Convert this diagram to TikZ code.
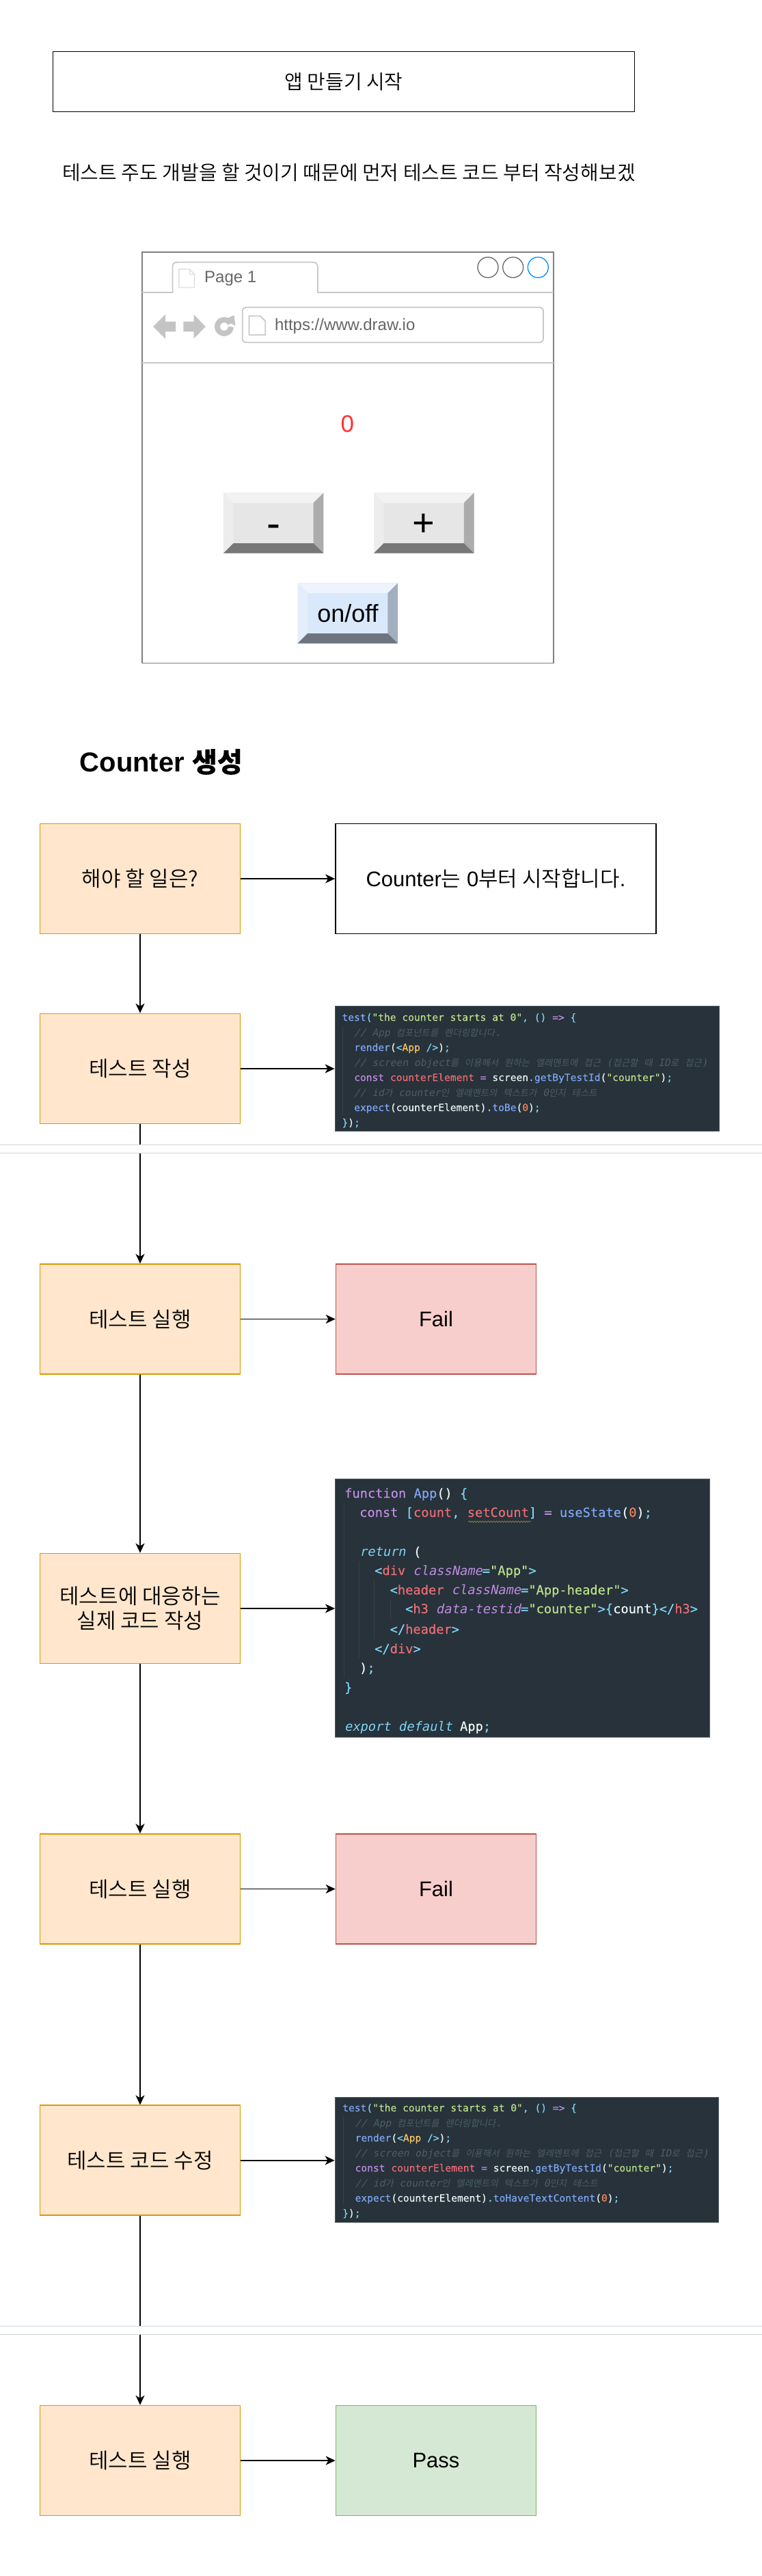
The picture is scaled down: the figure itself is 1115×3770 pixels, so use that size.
\documentclass[tikz,border=0pt]{standalone}
\usepackage{fontspec}
\setmainfont{Liberation Sans}
\newfontfamily\krf{Noto Sans CJK KR DemiLight}
\newfontfamily\krboldf[FakeBold=0.3]{Noto Sans CJK KR}
\newfontfamily\krobl[FakeSlant=0.2]{Noto Sans CJK KR}
\newfontfamily\codef[FakeBold=0.2]{DejaVu Sans Mono}
\newfontfamily\codeobl[FakeSlant=0.2]{DejaVu Sans Mono}
\usetikzlibrary{arrows.meta,decorations.pathmorphing}
\newcommand{\kr}[1]{{\krf #1}}
\definecolor{codebg}{HTML}{27323A}
\definecolor{codeedge}{HTML}{505C64}
\definecolor{codeguide}{HTML}{34424B}
\definecolor{squig}{HTML}{968046}
\definecolor{cblue}{HTML}{7FA6F5}
\definecolor{cgreen}{HTML}{BEE08A}
\definecolor{cmag}{HTML}{C08CE2}
\definecolor{ccyan}{HTML}{7FD3F5}
\definecolor{cyel}{HTML}{F8C565}
\definecolor{cred}{HTML}{EC6C74}
\definecolor{corg}{HTML}{F2845E}
\definecolor{cwhite}{HTML}{EDF7F7}
\definecolor{ccom}{HTML}{4C5D67}
\definecolor{brline}{HTML}{C8C8C8}
\definecolor{brtext}{HTML}{666666}
\definecolor{brouter}{HTML}{808080}
\definecolor{iconline}{HTML}{D8D8D8}
\definecolor{navgray}{HTML}{C4C4C4}
\definecolor{dotblue}{HTML}{008CFF}
\definecolor{tearA}{HTML}{D4D4DC}
\definecolor{tearB}{HTML}{CDD5DC}
\definecolor{orgline}{HTML}{D79B00}
\definecolor{orgfill}{HTML}{FFE6CC}
\definecolor{redline}{HTML}{B85450}
\definecolor{redfill}{HTML}{F8CECC}
\definecolor{grnline}{HTML}{82B366}
\definecolor{grnfill}{HTML}{D5E8D4}
\definecolor{zerored}{HTML}{FF3333}
\definecolor{gbC}{HTML}{E6E6E6}
\definecolor{gbT}{HTML}{F2F2F2}
\definecolor{gbL}{HTML}{EDEDED}
\definecolor{gbR}{HTML}{ACACAC}
\definecolor{gbB}{HTML}{777777}
\definecolor{bbC}{HTML}{DAE8FC}
\definecolor{bbT}{HTML}{EEF4FE}
\definecolor{bbL}{HTML}{E3EDFC}
\definecolor{bbR}{HTML}{A3AFC0}
\definecolor{bbB}{HTML}{6D7480}
\newcommand{\tkB}[1]{{\color{cblue}#1}}
\newcommand{\tkG}[1]{{\color{cgreen}#1}}
\newcommand{\tkM}[1]{{\color{cmag}#1}}
\newcommand{\tkC}[1]{{\color{ccyan}#1}}
\newcommand{\tkY}[1]{{\color{cyel}#1}}
\newcommand{\tkR}[1]{{\color{cred}#1}}
\newcommand{\tkO}[1]{{\color{corg}#1}}
\newcommand{\tkW}[1]{{\color{cwhite}#1}}
\newcommand{\tkK}[1]{{\color{ccom}\codeobl #1}}
\newcommand{\tkI}[2]{{\color{#1}\codeobl #2}}
\newcommand{\K}[1]{{\krobl\fontsize{13.4}{18}\selectfont #1}}
\newcommand{\bevel}[7]{%
 \begin{scope}[shift={(#1,#2)}]
  \fill[#3] (-73.25,-44.2) rectangle (73.25,44.2);
  \fill[#4] (-73.25,-44.2) -- (73.25,-44.2) -- (58.55,-29.5) -- (-58.55,-29.5) -- cycle;
  \fill[#5] (-73.25,-44.2) -- (-58.55,-29.5) -- (-58.55,29.5) -- (-73.25,44.2) -- cycle;
  \fill[#6] (73.25,-44.2) -- (58.55,-29.5) -- (58.55,29.5) -- (73.25,44.2) -- cycle;
  \fill[#7] (-73.25,44.2) -- (-58.55,29.5) -- (58.55,29.5) -- (73.25,44.2) -- cycle;
 \end{scope}}
\tikzset{
 boxbase/.style={rectangle,line width=1.7pt,inner sep=0pt,align=center,minimum width=293pt,minimum height=161pt,font=\fontsize{31}{36}\selectfont},
 todo/.style={boxbase,draw=orgline,fill=orgfill},
 plain/.style={boxbase,draw=black,fill=white},
 fail/.style={boxbase,draw=redline,fill=redfill},
 pass/.style={boxbase,draw=grnline,fill=grnfill},
 code/.style={rectangle,draw=codeedge,line width=.8pt,fill=codebg,inner sep=0pt},
 smallcode/.style={anchor=base west,inner sep=0pt,text=cwhite,font=\codef\fontsize{14.6}{18}\selectfont},
 bigcode/.style={anchor=base west,inner sep=0pt,text=cwhite,font=\codef\fontsize{18.7}{22}\selectfont},
 conn/.style={draw=black,line width=1.7pt,-{Stealth[length=14pt,width=13pt,inset=4pt]}},
 guide/.style={draw=codeguide,line width=.8pt},
 brframe/.style={draw=brline,line width=1.8pt},
 brtxt/.style={text=brtext,inner sep=0pt,anchor=base west,font=\fontsize{24}{28}\selectfont},
 dot/.style={circle,draw=brtext,line width=1.3pt,fill=white,minimum size=30pt,inner sep=0pt},
 navshape/.style={fill=navgray},
 btnlabel/.style={inner sep=0pt,anchor=base,text=black},
}
\begin{document}
\begin{tikzpicture}[x=1pt,y=-1pt]
\useasboundingbox (0,0) rectangle (1115,3770);
\fill[white] (0,0) rectangle (1115,3770);

% header
\node[draw=black,line width=1.9pt,fill=white,minimum width=851pt,minimum height=88pt,inner sep=0pt,font=\fontsize{29}{34}\selectfont] (title) at (503,119.5) {\kr{앱 만들기 시작}};
\node[inner sep=0pt,font=\fontsize{29}{34}\selectfont] (intro) at (510.5,253) {\kr{테스트 주도 개발을 할 것이기 때문에 먼저 테스트 코드 부터 작성해보겠}};

% browser mock-up
\node[draw=brouter,line width=1.8pt,fill=white,minimum width=601.8pt,minimum height=601.5pt,inner sep=0pt] (browser) at (508.7,669.75) {};
\draw[brframe] (208,428) -- (252.4,428) -- (252.4,392) .. controls (252.4,386) and (254,383.8) .. (260,383.8) -- (457,383.8) .. controls (463,383.8) and (465,386) .. (465,392) -- (465,428) -- (809.6,428);
\draw[brframe] (208,530.7) -- (809.6,530.7);
\node[dot] (dotA) at (714,391.3) {};
\node[dot] (dotB) at (750.7,391.3) {};
\node[dot,draw=dotblue] (dotC) at (787.3,391.3) {};
\draw[draw=iconline,line width=1.1pt,fill=white] (262,394) -- (277,394) -- (284.4,401) -- (284.4,420.8) -- (262,420.8) -- cycle;
\draw[draw=iconline,line width=.8pt] (277,394) -- (277,401) -- (284.4,401);
\node[brtxt] (tabtext) at (299,413.7) {Page 1};
\fill[navshape] (224.2,478) -- (241.9,460.3) -- (241.9,470.6) -- (257,470.6) -- (257,485.4) -- (241.9,485.4) -- (241.9,495.7) -- cycle;
\fill[navshape] (300.8,478) -- (283.5,460.3) -- (283.5,470.6) -- (268.4,470.6) -- (268.4,485.4) -- (283.5,485.4) -- (283.5,495.7) -- cycle;
\node[circle,draw=navgray,line width=8pt,minimum size=20pt,inner sep=0pt] (refresh) at (328,478) {};
\fill[white] (331,477) -- (349,480) -- (349,468) -- cycle;
\fill[navshape] (342.5,461.5) -- (344.5,477) -- (328.5,467.5) -- cycle;
\node[draw=brline,line width=1.8pt,rounded corners=5pt,minimum width=440.3pt,minimum height=51.4pt,inner sep=0pt] (urlbar) at (574.85,475.5) {};
\draw[brframe,fill=white] (364.5,462.5) -- (381,462.5) -- (388.3,470) -- (388.3,490.3) -- (364.5,490.3) -- cycle;
\node[brtxt] (urltext) at (401.8,483) {https://www.draw.io};
\node[inner sep=0pt,anchor=base,text=zerored,font=\fontsize{35}{38}\selectfont] (count) at (508.3,632.5) {0};
\bevel{400.15}{765.5}{gbC}{gbT}{gbL}{gbR}{gbB}
\bevel{620.25}{765.5}{gbC}{gbT}{gbL}{gbR}{gbB}
\bevel{508.75}{897.5}{bbC}{bbT}{bbL}{bbR}{bbB}
\node[btnlabel,font=\fontsize{60}{64}\selectfont] (minus) at (400.15,786.5) {-};
\node[btnlabel,font=\fontsize{56}{60}\selectfont] (plus) at (620.25,784.5) {+};
\node[btnlabel,font=\fontsize{36}{40}\selectfont] (onoff) at (509,910) {on/off};

% section title
\node[anchor=west,inner sep=0pt,font=\bfseries\fontsize{40}{46}\selectfont] (section) at (116.5,1115) {Counter {\krboldf 생성}};

% flow boxes
\node[todo] (a1) at (205,1286) {\kr{해야 할 일은?}};
\node[plain,minimum width=469pt] (b1) at (725.5,1286) {Counter\kr{는} 0\kr{부터 시작합니다}.};
\node[todo] (a2) at (205,1564) {\kr{테스트 작성}};
\node[code,minimum width=562.5pt,minimum height=183pt] (c1) at (771.25,1563.5) {};
\node[todo] (a3) at (205,1930.5) {\kr{테스트 실행}};
\node[fail] (b3) at (638,1930.5) {Fail};
\node[todo] (a4) at (205,2354) {\kr{테스트에 대응하는}\\\kr{실제 코드 작성}};
\node[code,minimum width=548.2pt,minimum height=378pt] (c2) at (764.5,2353) {};
\node[todo] (a5) at (205,2764.5) {\kr{테스트 실행}};
\node[fail] (b5) at (638,2764.5) {Fail};
\node[todo] (a6) at (205,3161.75) {\kr{테스트 코드 수정}};
\node[code,minimum width=561pt,minimum height=183.7pt] (c3) at (770.5,3161) {};
\node[todo] (a7) at (205,3601) {\kr{테스트 실행}};
\node[pass] (b7) at (638,3601) {Pass};

% connectors
\draw[conn] (a1.south) -- (a2.north);
\draw[conn] (a2.south) -- (a3.north);
\draw[conn] (a3.south) -- (a4.north);
\draw[conn] (a4.south) -- (a5.north);
\draw[conn] (a5.south) -- (a6.north);
\draw[conn] (a6.south) -- (a7.north);
\draw[conn] (a1.east) -- (a1.east -| b1.west);
\draw[conn] (a2.east) -- (a2.east -| c1.west);
\draw[conn] (a3.east) -- (a3.east -| b3.west);
\draw[conn] (a4.east) -- (a4.east -| c2.west);
\draw[conn] (a5.east) -- (a5.east -| b5.west);
\draw[conn] (a6.east) -- (a6.east -| c3.west);
\draw[conn] (a7.east) -- (a7.east -| b7.west);

% page tears
\fill[white] (0,1675.3) rectangle (1115,1687.3);
\draw[tearA,line width=1.1pt] (0,1675.3) -- (1115,1675.3) (0,1687.3) -- (1115,1687.3);
\fill[white] (0,3404.3) rectangle (1115,3416.3);
\draw[tearB,line width=1.1pt] (0,3404.3) -- (1115,3404.3) (0,3416.3) -- (1115,3416.3);

% code block 1
\draw[guide] (501,1502) -- (501,1633);
\node[smallcode] (c1l1) at (500.3,1494) {\tkB{test}\tkC{(}\tkG{"the counter starts at 0"}\tkC{,} \tkC{()} \tkM{=>} \tkC{\{}};
\node[smallcode] (c1l2) at (518,1516) {\tkK{// App \K{컴포넌트를} \K{렌더링합니다}.}};
\node[smallcode] (c1l3) at (518,1538) {\tkB{render}\tkW{(}\tkC{<}\tkY{App} \tkC{/>}\tkW{)}\tkC{;}};
\node[smallcode] (c1l4) at (518,1560) {\tkK{// screen object\K{를} \K{이용해서} \K{원하는} \K{엘레멘트에} \K{접근} (\K{접근할} \K{때} ID\K{로} \K{접근})}};
\node[smallcode] (c1l5) at (518,1582) {\tkM{const} \tkR{counterElement} \tkM{=} \tkW{screen}\tkC{.}\tkB{getByTestId}\tkW{(}\tkG{"counter"}\tkW{)}\tkC{;}};
\node[smallcode] (c1l6) at (518,1604) {\tkK{// id\K{가} counter\K{인} \K{엘레멘트의} \K{텍스트가} 0\K{인지} \K{테스트}}};
\node[smallcode] (c1l7) at (518,1626) {\tkB{expect}\tkW{(counterElement)}\tkC{.}\tkB{toBe}\tkW{(}\tkO{0}\tkW{)}\tkC{;}};
\node[smallcode] (c1l8) at (500.3,1648) {\tkC{\}}\tkW{)}\tkC{;}};

% code block 2
\draw[guide] (503.3,2200) -- (503.3,2455);
\draw[guide] (525,2285) -- (525,2427);
\draw[guide] (547.7,2313) -- (547.7,2399);
\draw[guide] (571.4,2342) -- (571.4,2370);
\node[bigcode] (c2l1) at (504,2192) {\tkM{function} \tkB{App}\tkW{()} \tkC{\{}};
\node[bigcode] (c2l2) at (526,2220) {\tkM{const} \tkC{[}\tkR{count}\tkC{,} \tkR{setCount}\tkC{]} \tkM{=} \tkB{useState}\tkW{(}\tkO{0}\tkW{)}\tkC{;}};
\node[bigcode] (c2l3) at (526,2277.5) {\tkI{ccyan}{return} \tkW{(}};
\node[bigcode] (c2l4) at (548,2305) {\tkC{<}\tkR{div} \tkI{cmag}{className}\tkC{=}\tkG{"App"}\tkC{>}};
\node[bigcode] (c2l5) at (570.5,2333.5) {\tkC{<}\tkR{header} \tkI{cmag}{className}\tkC{=}\tkG{"App-header"}\tkC{>}};
\node[bigcode] (c2l6) at (593,2361) {\tkC{<}\tkR{h3} \tkI{cmag}{data-testid}\tkC{=}\tkG{"counter"}\tkC{>\{}\tkW{count}\tkC{\}</}\tkR{h3}\tkC{>}};
\node[bigcode] (c2l7) at (570.5,2391) {\tkC{</}\tkR{header}\tkC{>}};
\node[bigcode] (c2l8) at (548,2419.5) {\tkC{</}\tkR{div}\tkC{>}};
\node[bigcode] (c2l9) at (526,2447.5) {\tkW{)}\tkC{;}};
\node[bigcode] (c2l10) at (504,2476) {\tkC{\}}};
\node[bigcode] (c2l11) at (504,2533) {\tkI{ccyan}{export default} \tkW{App}\tkC{;}};
\draw[draw=squig,line width=.8pt,decorate,decoration={snake,amplitude=1pt,segment length=4pt}] (685.3,2227) -- (776.7,2227);

% code block 3
\draw[guide] (502,3097) -- (502,3227);
\node[smallcode] (c3l1) at (501,3090) {\tkB{test}\tkC{(}\tkG{"the counter starts at 0"}\tkC{,} \tkC{()} \tkM{=>} \tkC{\{}};
\node[smallcode] (c3l2) at (519.4,3112) {\tkK{// App \K{컴포넌트를} \K{렌더링합니다}.}};
\node[smallcode] (c3l3) at (519.4,3134) {\tkB{render}\tkW{(}\tkC{<}\tkY{App} \tkC{/>}\tkW{)}\tkC{;}};
\node[smallcode] (c3l4) at (519.4,3156) {\tkK{// screen object\K{를} \K{이용해서} \K{원하는} \K{엘레멘트에} \K{접근} (\K{접근할} \K{때} ID\K{로} \K{접근})}};
\node[smallcode] (c3l5) at (519.4,3178) {\tkM{const} \tkR{counterElement} \tkM{=} \tkW{screen}\tkC{.}\tkB{getByTestId}\tkW{(}\tkG{"counter"}\tkW{)}\tkC{;}};
\node[smallcode] (c3l6) at (519.4,3200) {\tkK{// id\K{가} counter\K{인} \K{엘레멘트의} \K{텍스트가} 0\K{인지} \K{테스트}}};
\node[smallcode] (c3l7) at (519.4,3222) {\tkB{expect}\tkW{(counterElement)}\tkC{.}\tkB{toHaveTextContent}\tkW{(}\tkO{0}\tkW{)}\tkC{;}};
\node[smallcode] (c3l8) at (501,3244) {\tkC{\}}\tkW{)}\tkC{;}};
\end{tikzpicture}
\end{document}
